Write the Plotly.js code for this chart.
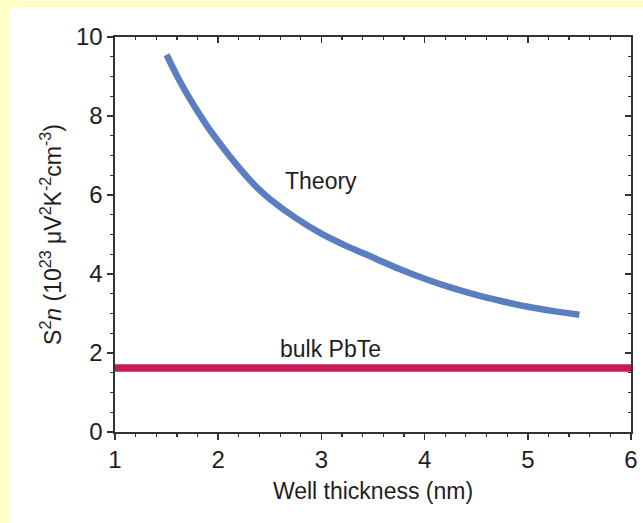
<!DOCTYPE html>
<html>
<head>
<meta charset="utf-8">
<script src="https://cdn.plot.ly/plotly-3.0.1.min.js"></script>
<style>
  html, body { margin: 0; padding: 0; background: #ffffc8; width: 643px; height: 523px; overflow: hidden; }
  #chart { position: absolute; left: 9px; top: 7px; width: 634px; height: 516px; background: #ffffff; }
</style>
</head>
<body>
<div id="chart"></div>
<script>
// Theory curve (well thickness in nm, S^2 n in 10^23 units)
const theoryX = [1.5, 1.6, 1.7, 1.8, 1.9, 2.0, 2.1, 2.2, 2.3, 2.4, 2.5, 2.75, 3.0, 3.25, 3.5, 3.75, 4.0, 4.25, 4.5, 4.75, 5.0, 5.25, 5.5];
const theoryY = [9.55, 9.02, 8.55, 8.12, 7.72, 7.36, 7.02, 6.7, 6.4, 6.13, 5.9, 5.42, 5.02, 4.7, 4.42, 4.13, 3.88, 3.66, 3.47, 3.31, 3.17, 3.06, 2.97];
// Bulk PbTe reference level
const bulkX = [1, 6];
const bulkY = [1.62, 1.62];
// Axis ticks
const xTicks = [1, 2, 3, 4, 5, 6];
const yTicks = [0, 2, 4, 6, 8, 10];

const fontFam = '"Liberation Sans", Arial, Helvetica, sans-serif';
const axisCol = '#333333';
const txtCol = '#1e1e1e';

const traces = [
  { x: bulkX, y: bulkY, mode: 'lines', line: { color: '#c81a5a', width: 7.5 }, hoverinfo: 'skip', showlegend: false },
  { x: theoryX, y: theoryY, mode: 'lines', line: { color: '#5b7ec0', width: 6.5, shape: 'spline', smoothing: 1 }, hoverinfo: 'skip', showlegend: false },
  // invisible carrier so the mirrored top/right frame axes get drawn
  { x: bulkX, y: bulkY, xaxis: 'x2', yaxis: 'y2', mode: 'lines', line: { width: 0 }, opacity: 0, hoverinfo: 'skip', showlegend: false }
];

const layout = {
  width: 634, height: 516,
  margin: { l: 106, r: 12, t: 30, b: 91 },
  paper_bgcolor: '#ffffff', plot_bgcolor: '#ffffff',
  font: { family: fontFam, color: txtCol, size: 23 },
  showlegend: false,
  xaxis: {
    range: [1, 6], tickvals: xTicks, ticktext: xTicks.map(String),
    ticks: 'outside', ticklen: 6, tickwidth: 1.5, tickcolor: axisCol,
    minor: { dtick: 0.2, ticks: 'outside', ticklen: 3, tickwidth: 1.2, tickcolor: axisCol },
    showline: true, linecolor: axisCol, linewidth: 1.6, showgrid: false, zeroline: false,
    tickfont: { size: 24, family: fontFam, color: txtCol },
    title: { text: 'Well thickness (nm)', font: { size: 23, family: fontFam, color: txtCol }, standoff: 10 }
  },
  yaxis: {
    range: [0, 10], tickvals: yTicks, ticktext: yTicks.map(String),
    ticks: 'outside', ticklen: 6, tickwidth: 1.5, tickcolor: axisCol,
    minor: { dtick: 0.5, ticks: 'outside', ticklen: 3, tickwidth: 1.2, tickcolor: axisCol },
    showline: true, linecolor: axisCol, linewidth: 1.6, showgrid: false, zeroline: false,
    tickfont: { size: 24, family: fontFam, color: txtCol },
    title: { text: 'S<sup>2</sup><i>n</i> (10<sup>23</sup> μV<sup>2</sup>K<sup>-2</sup>cm<sup>-3</sup>)', font: { size: 23, family: fontFam, color: txtCol }, standoff: 8 }
  },
  xaxis2: {
    overlaying: 'x', side: 'top', range: [1, 6], tickvals: xTicks, showticklabels: false,
    ticks: 'inside', ticklen: 6, tickwidth: 1.5, tickcolor: axisCol,
    minor: { dtick: 0.2, ticks: 'inside', ticklen: 3, tickwidth: 1.2, tickcolor: axisCol },
    showline: true, linecolor: axisCol, linewidth: 1.6, showgrid: false, zeroline: false
  },
  yaxis2: {
    overlaying: 'y', side: 'right', range: [0, 10], tickvals: yTicks, showticklabels: false,
    ticks: 'inside', ticklen: 6, tickwidth: 1.5, tickcolor: axisCol,
    minor: { dtick: 0.5, ticks: 'inside', ticklen: 3, tickwidth: 1.2, tickcolor: axisCol },
    showline: true, linecolor: axisCol, linewidth: 1.6, showgrid: false, zeroline: false
  },
  annotations: [
    { x: 3.0, y: 6.35, xref: 'x', yref: 'y', text: 'Theory', showarrow: false, font: { size: 23, family: fontFam, color: txtCol } },
    { x: 3.09, y: 2.1, xref: 'x', yref: 'y', text: 'bulk PbTe', showarrow: false, font: { size: 23, family: fontFam, color: txtCol } }
  ]
};

Plotly.newPlot('chart', traces, layout, { displayModeBar: false, staticPlot: true });
</script>
</body>
</html>
